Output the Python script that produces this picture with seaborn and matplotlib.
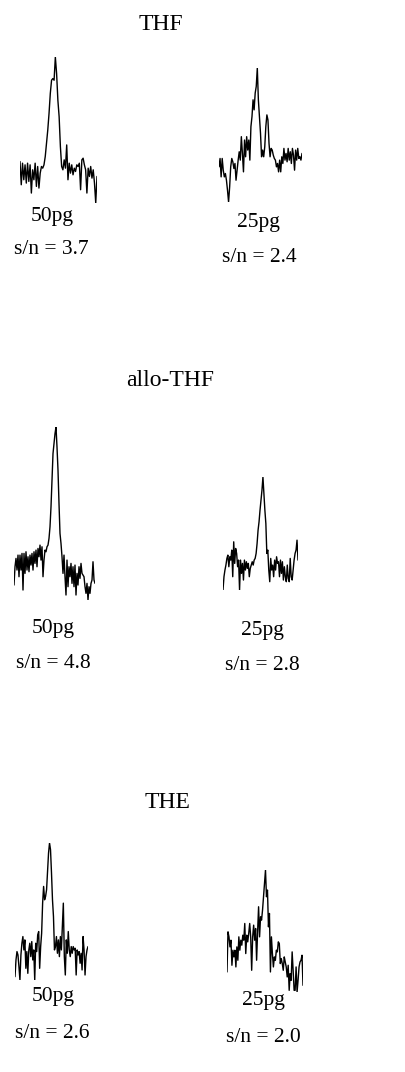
import numpy as np
import pandas as pd
import matplotlib
matplotlib.use("Agg")
import matplotlib.pyplot as plt
import seaborn as sns

# ---- data (signal intensity, arbitrary units) ----
thf_50 = [125,55,120,70,115,60,120,65,115,30,100,70,120,50,110,45,90,110,105,115,140,180,220,270,330,370,375,370,440,390,310,260,170,110,100,130,105,175,70,120,90,115,85,105,95,115,110,120,40,130,135,115,100,30,105,80,110,75,100,60,0,80]
thf_25 = [110,135,80,135,100,80,90,70,40,5,50,110,135,125,105,120,70,100,130,155,130,200,150,95,190,140,200,160,190,130,230,260,310,280,330,350,405,310,260,210,140,160,140,170,230,265,250,180,140,165,160,145,135,130,110,120,95,130,95,140,120,165,130,150,125,165,130,155,120,165,145,100,160,130,165,135,140,130,150]
allo_50 = [45,100,125,90,135,70,135,90,140,30,140,80,145,90,130,85,135,105,140,90,145,110,150,100,155,130,165,120,160,70,120,150,145,160,165,185,220,280,360,440,470,500,520,460,390,290,200,170,130,80,135,70,15,120,40,100,70,110,50,100,40,105,15,80,45,100,65,110,80,75,70,40,20,50,0,40,20,50,60,115,60,50]
allo_25 = [0,40,60,75,95,105,70,100,90,120,40,145,80,125,110,70,90,0,90,50,80,30,90,60,85,65,80,40,65,75,85,75,90,95,110,140,180,205,240,270,300,340,290,240,200,110,120,60,25,95,60,75,40,90,60,100,80,85,40,90,50,85,30,70,40,25,75,35,25,95,40,30,60,90,110,120,150,90]
the_50 = [10,60,85,75,40,0,75,110,130,90,120,35,85,20,90,110,70,115,60,90,0,110,85,135,145,35,100,140,230,280,240,250,270,325,380,410,390,320,240,190,90,100,130,80,120,70,130,90,160,230,70,15,120,80,145,90,70,100,80,100,90,95,15,90,75,85,50,80,30,130,90,15,70,90,100]
the_25 = [60,180,165,135,155,80,125,105,125,75,135,95,165,125,155,140,170,155,205,115,170,150,175,205,165,65,165,200,155,190,95,180,255,165,225,215,245,285,325,365,285,305,195,235,60,165,115,75,105,95,125,120,150,145,85,100,85,65,105,90,75,45,80,5,55,35,120,65,5,5,75,0,35,75,90,95,110,20]

traces = [thf_50, thf_25, allo_50, allo_25, the_50, the_25]
amounts = ["50pg", "25pg", "50pg", "25pg", "50pg", "25pg"]
sn_values = [3.7, 2.4, 4.8, 2.8, 2.6, 2.0]
compounds = ["THF", "allo-THF", "THE"]

# ---- layout (pixels in a 406 x 1072 canvas) ----
W, H = 406, 1072
boxes = [  # x0, x1, ytop, ybottom
    (20, 97, 57, 203),
    (219, 302, 68, 202),
    (14, 95, 427, 600),
    (223, 298, 477, 590),
    (15, 88, 843, 980),
    (227, 303, 870, 992),
]
amount_pos = [(52, 216), (258, 222), (53, 629), (262, 631), (53, 997), (263, 1001)]
sn_pos = [(51, 249), (259, 257), (53, 663), (262, 666), (52, 1033), (263, 1037)]
title_pos = [(161, 24), (170, 381), (168, 802)]

sns.set_style("white")
plt.rcParams["font.family"] = ["Liberation Serif", "DejaVu Serif"]
plt.rcParams["text.color"] = "black"

fig = plt.figure(figsize=(W / 100, H / 100), dpi=100)
fig.patch.set_facecolor("white")

for vals, (x0, x1, yt, yb) in zip(traces, boxes):
    ax = fig.add_axes([x0 / W, 1 - yb / H, (x1 - x0) / W, (yb - yt) / H])
    df = pd.DataFrame({"t": np.arange(len(vals)), "signal": vals})
    sns.lineplot(data=df, x="t", y="signal", ax=ax, color="black", linewidth=1.0)
    ax.set_xlim(0, len(vals) - 1)
    ax.set_ylim(min(vals), max(vals))
    ax.axis("off")

for name, (x, y) in zip(compounds, title_pos):
    fig.text(x / W, 1 - y / H, name, ha="center", va="center", fontsize=17, color="black")
for amt, (x, y) in zip(amounts, amount_pos):
    fig.text(x / W, 1 - y / H, amt, ha="center", va="center", fontsize=15.5, color="black")
for sn, (x, y) in zip(sn_values, sn_pos):
    fig.text(x / W, 1 - y / H, f"s/n = {sn:.1f}", ha="center", va="center", fontsize=15.5, color="black")

fig.savefig("out.png", dpi=100, facecolor="white")
